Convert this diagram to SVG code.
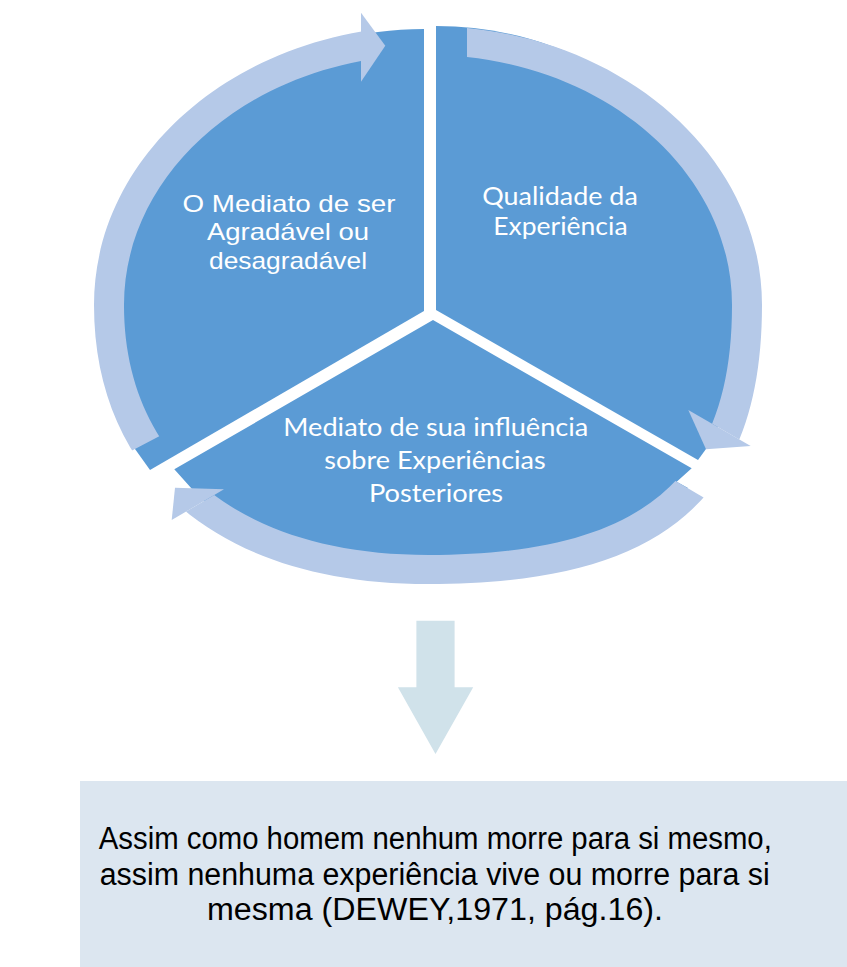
<svg xmlns="http://www.w3.org/2000/svg" width="847" height="967" viewBox="0 0 847 967">
  <style>
    .seg { fill: #5B9BD5; }
    .band { fill: #B5C9E8; }
    .lbl { fill: #FFFFFF; font-size: 25px; text-anchor: middle; font-family: Lato, "Open Sans", sans-serif; }
    .lbl-arial { fill: #FFFFFF; font-size: 24px; text-anchor: middle; font-family: "Liberation Sans", Arial, sans-serif; }
    .quote { fill: #000000; font-size: 31px; text-anchor: middle; font-family: "Liberation Sans", Arial, sans-serif; }
    .down { fill: #D0E2EA; }
    .box { fill: #DCE6F0; }
  </style>
  <defs>
    <!-- elliptical ring shared by the three curved arrows -->
    <path id="ring" fill-rule="evenodd" d="M 428,26 C 612.5,26 762,150.9 762,305 C 762,500.3 661.8,584 428,584 C 220.9,584 94,478 94,305 C 94,150.9 243.5,26 428,26 Z M 428,55 C 595.9,55 732,166.9 732,305 C 732,480 640.8,555 428,555 C 239.5,555 124,460 124,305 C 124,166.9 260.1,55 428,55 Z"/>
    <clipPath id="clip-a"><polygon points="361,-20 361,200 428,295.4 -50,546 -50,-20"/></clipPath>
    <clipPath id="clip-b"><polygon points="467,-20 900,-20 900,532.2 688.3,410 600,359.1 467,200"/></clipPath>
    <clipPath id="clip-c"><polygon points="600,436.6 900,613 900,1000 -50,1000 -50,650.1 300,444.7"/></clipPath>
  </defs>

  <!-- pie segments with labels -->
  <g id="node-agradavel">
    <path class="seg" d="M 424,311 L 424,29 C 248.9,29 107,152.6 107,305 C 107,360 118,420 135,449 L 150,470 Z"/>
  </g>
  <g id="node-qualidade">
    <path class="seg" d="M 436,310 L 436,26 C 607.2,26 746,150.9 746,305 C 746,360 725,420 706,449 L 698,460 Z"/>
  </g>
  <g id="node-influencia">
    <path class="seg" d="M 433,320 L 691.7,468.3 L 676.7,481.7 L 688,488 C 640,540 530,569 430,569 C 330,569 240,545 192,489 L 174.3,469.3 Z"/>
  </g>

  <!-- curved cycle arrows and the downward arrow -->
  <g id="connectors">
    <g id="arrow-left-top">
      <use href="#ring" class="band" clip-path="url(#clip-a)"/>
      <polygon class="band" points="361,12.7 385.3,45.7 361,81.7"/>
    </g>
    <g id="arrow-right">
      <use href="#ring" class="band" clip-path="url(#clip-b)"/>
      <polygon class="band" points="688.3,410 706,449.3 750.7,446"/>
    </g>
    <g id="arrow-bottom">
      <use href="#ring" class="band" clip-path="url(#clip-c)"/>
      <polygon class="band" points="175,487.7 224,489.3 171.7,520"/>
    </g>
    <polygon id="arrow-down" class="down" points="416.4,620.7 454.6,620.7 454.6,687.3 473.2,687.3 435.5,754 397.9,687.3 416.4,687.3"/>
  </g>

  <!-- segment labels -->
  <g id="label-agradavel">
    <text class="lbl-arial" x="289" y="211.5" textLength="213" lengthAdjust="spacingAndGlyphs">O Mediato de ser</text>
    <text class="lbl-arial" x="288" y="240" textLength="162" lengthAdjust="spacingAndGlyphs">Agradável ou</text>
    <text class="lbl-arial" x="288" y="268.5" textLength="158" lengthAdjust="spacingAndGlyphs">desagradável</text>
  </g>
  <g id="label-qualidade">
    <text class="lbl" x="560" y="204.6" textLength="155.6" lengthAdjust="spacingAndGlyphs">Qualidade da</text>
    <text class="lbl" x="560.4" y="235" textLength="134.3" lengthAdjust="spacingAndGlyphs">Experiência</text>
  </g>
  <g id="label-influencia">
    <text class="lbl" x="435.8" y="436.2" textLength="305" lengthAdjust="spacingAndGlyphs">Mediato de sua influência</text>
    <text class="lbl" x="435" y="468.6" textLength="221.4" lengthAdjust="spacingAndGlyphs">sobre Experiências</text>
    <text class="lbl" x="436" y="502" textLength="134.2" lengthAdjust="spacingAndGlyphs">Posteriores</text>
  </g>

  <!-- quotation box -->
  <g id="node-quote">
    <rect class="box" x="80" y="781" width="767" height="186"/>
    <text class="quote" x="435.3" y="849" textLength="673" lengthAdjust="spacingAndGlyphs">Assim como homem nenhum morre para si mesmo,</text>
    <text class="quote" x="434.7" y="885" textLength="670" lengthAdjust="spacingAndGlyphs">assim nenhuma experiência vive ou morre para si</text>
    <text class="quote" x="435" y="920" textLength="456" lengthAdjust="spacingAndGlyphs">mesma (DEWEY,1971, pág.16).</text>
  </g>
</svg>
